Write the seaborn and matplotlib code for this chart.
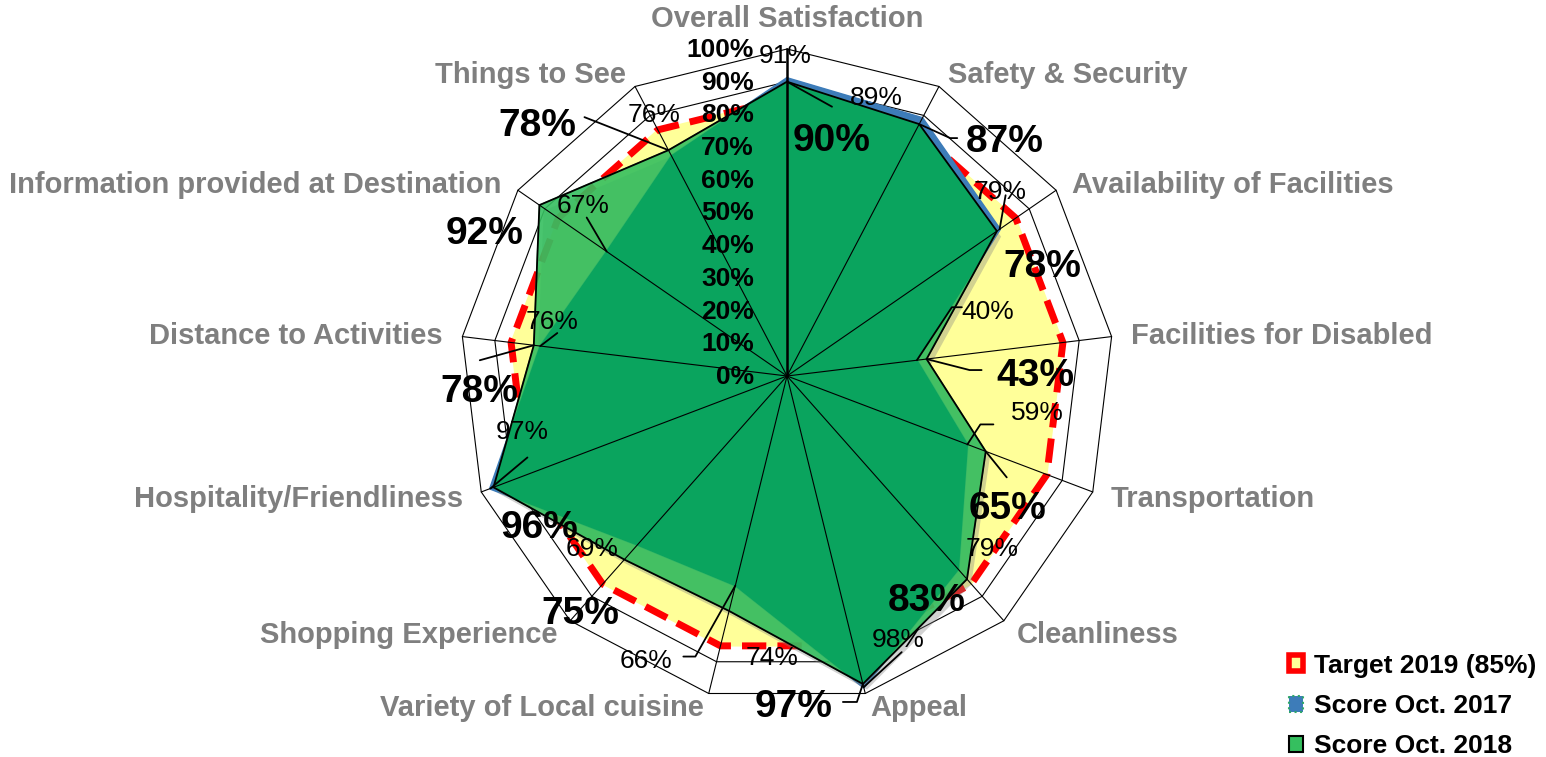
import matplotlib
matplotlib.use("Agg")
import matplotlib.pyplot as plt
import matplotlib.patheffects as pe
from matplotlib.patches import Patch
import numpy as np
import seaborn as sns

# 数据
categories = ["Overall Satisfaction", "Safety & Security", "Availability of Facilities",
              "Facilities for Disabled", "Transportation", "Cleanliness", "Appeal",
              "Variety of Local cuisine", "Shopping Experience", "Hospitality/Friendliness",
              "Distance to Activities", "Information provided at Destination", "Things to See"]
target_2019 = [85, 85, 85, 85, 85, 85, 85, 85, 85, 85, 85, 85, 85]
score_2017 = [91, 89, 79, 40, 59, 79, 98, 66, 69, 97, 76, 67, 76]
score_2018 = [90, 87, 78, 43, 65, 83, 97, 74, 75, 96, 78, 92, 78]
radial_ticks = [0, 10, 20, 30, 40, 50, 60, 70, 80, 90, 100]

# label placement (pixel offsets from the data point, y down)
off_2018 = [(45, 55), (85, 14), (45, 32), (109, 13), (22, 54), (-40, 18), (-69, 19),
            (43, 45), (-44, 50), (46, 37), (-54, 43), (-55, 25), (-131, -28)]
off_2017 = [(-2, -25), (-46, -23), (1, -40), (71, -51), (70, -34), (34, -23), (34, -50),
            (-89, 73), (-45, 2), (32, -59), (12, -27), (-24, -48), (-17, -43)]
lead_2018 = {0: [(45, 25)], 1: [(31, 14), (38, 14)], 3: [(43, 11), (55, 11)], 4: [(21, 26)],
             6: [(-6, 18), (-20, 18)], 10: [(-54, 15)], 12: [(-84, -33)]}
lead_2017 = {2: [(6, -34)], 3: [(35, -53), (45, -53)], 4: [(13, -20), (26, -20)],
             6: [(38, -35)], 7: [(-40, 71), (-52, 71)], 9: [(37, -31)], 10: [(17, -13)],
             11: [(-20, -34)]}

sns.set_theme(style="white")
plt.rcParams['font.family'] = ['Liberation Sans', 'DejaVu Sans']

S = 3.27  # pixels per percent
CX, CY = 787, 376
W, H = 1546, 757

n = len(categories)
ang = np.deg2rad(90 - np.arange(n) * 360 / n)


def polar_xy(vals):
    v = np.asarray(vals, dtype=float)
    return v * np.cos(ang), v * np.sin(ang)


def closed(x, y):
    return np.append(x, x[0]), np.append(y, y[0])


fig = plt.figure(figsize=(W / 100, H / 100), dpi=100)
ax = fig.add_axes([0, 0, 1, 1])
ax.set_xlim(-CX / S, (W - CX) / S)
ax.set_ylim(-(H - CY) / S, CY / S)
ax.axis('off')

# 网格
for t in radial_ticks[1:]:
    gx, gy = closed(*polar_xy([t] * n))
    ax.plot(gx, gy, color='black', lw=0.8, zorder=1)

# target
tx, ty = closed(*polar_xy(target_2019))
ax.fill(tx, ty, color='#FFFF99', zorder=2)
sns.lineplot(x=tx, y=ty, sort=False, estimator=None, color='#FF0000', lw=5, ax=ax, zorder=2.5)
ax.lines[-1].set_linestyle((0, (3.5, 1.6)))

# 2017
x17, y17 = closed(*polar_xy(score_2017))
ax.fill(x17, y17, color='#3D7CB9', zorder=3)
sns.lineplot(x=x17, y=y17, sort=False, estimator=None, color='#3D7CB9', lw=2, ax=ax, zorder=3)

# 2018
x18, y18 = closed(*polar_xy(score_2018))
p18 = ax.fill(x18, y18, color='#35BF5F', alpha=0.9, zorder=4)[0]
p18.set_path_effects([pe.SimplePatchShadow(offset=(3, -4), shadow_rgbFace='0.5', alpha=0.35),
                      pe.Normal()])
dark = ax.fill(x17, y17, color='#0AA45E', zorder=5)[0]
dark.set_clip_path(p18)
sns.lineplot(x=x18, y=y18, sort=False, estimator=None, color='black', lw=1.3, ax=ax, zorder=6)

# spokes
ox, oy = polar_xy([100] * n)
for k in range(n):
    ax.plot([0, ox[k]], [0, oy[k]], color='black', lw=1.8 if k == 0 else 0.8, zorder=6.5)

# radial tick labels
for t in radial_ticks:
    ax.text(-33 / S, t - 1 / S, f"{t}%", ha='right', va='center', fontsize=19,
            fontweight='bold', color='black', zorder=9)

# category labels
lx, ly = polar_xy([106] * n)
for k, name in enumerate(categories):
    c, s = np.cos(ang[k]), np.sin(ang[k])
    ha = 'center' if abs(c) < 0.1 else ('left' if c > 0 else 'right')
    va = 'bottom' if k == 0 else 'center'
    shift = -4 if k == 0 else (-6 if s > 0.3 else (5 if s < -0.9 else -2 if s > 0 else 0))
    ax.text(lx[k], ly[k] + shift / S, name, ha=ha, va=va, fontsize=21, fontweight='bold',
            color='#7F7F7F', zorder=9)


def leader(px, py, pts):
    xs = [px] + [px + dx / S for dx, dy in pts]
    ys = [py] + [py - dy / S for dx, dy in pts]
    ax.plot(xs, ys, color='black', lw=1.3, zorder=7)


# data labels
p17x, p17y = polar_xy(score_2017)
p18x, p18y = polar_xy(score_2018)
for k in range(n):
    dx, dy = off_2018[k]
    big = categories[k] != "Variety of Local cuisine"
    ax.annotate(f"{score_2018[k]}%", (p18x[k], p18y[k]), xytext=(dx, -dy),
                textcoords='offset pixels', ha='center', va='center_baseline',
                fontsize=28 if big else 19, fontweight='bold' if big else 'normal',
                color='black', zorder=8)
    dx, dy = off_2017[k]
    ax.annotate(f"{score_2017[k]}%", (p17x[k], p17y[k]), xytext=(dx, -dy),
                textcoords='offset pixels', ha='center', va='center_baseline',
                fontsize=19, color='black', zorder=8)
for k, pts in lead_2018.items():
    leader(p18x[k], p18y[k], pts)
for k, pts in lead_2017.items():
    leader(p17x[k], p17y[k], pts)

# legend
handles = [Patch(facecolor='#FFFF99', edgecolor='#FF0000', linewidth=4),
           Patch(facecolor='#3D7CB9', edgecolor='#2FA66A', linewidth=1.5, linestyle=':'),
           Patch(facecolor='#35BF5F', edgecolor='black', linewidth=1.5)]
fig.legend(handles, ["Target 2019 (85%)", "Score Oct. 2017", "Score Oct. 2018"],
           loc='upper left', bbox_to_anchor=(1278 / W, 1 - 643 / H), frameon=False,
           handlelength=0.55, handleheight=0.55, handletextpad=0.4, labelspacing=0.62,
           borderaxespad=0, labelcolor='black', prop={'weight': 'bold', 'size': 19})

fig.savefig('out.png', dpi=100)
